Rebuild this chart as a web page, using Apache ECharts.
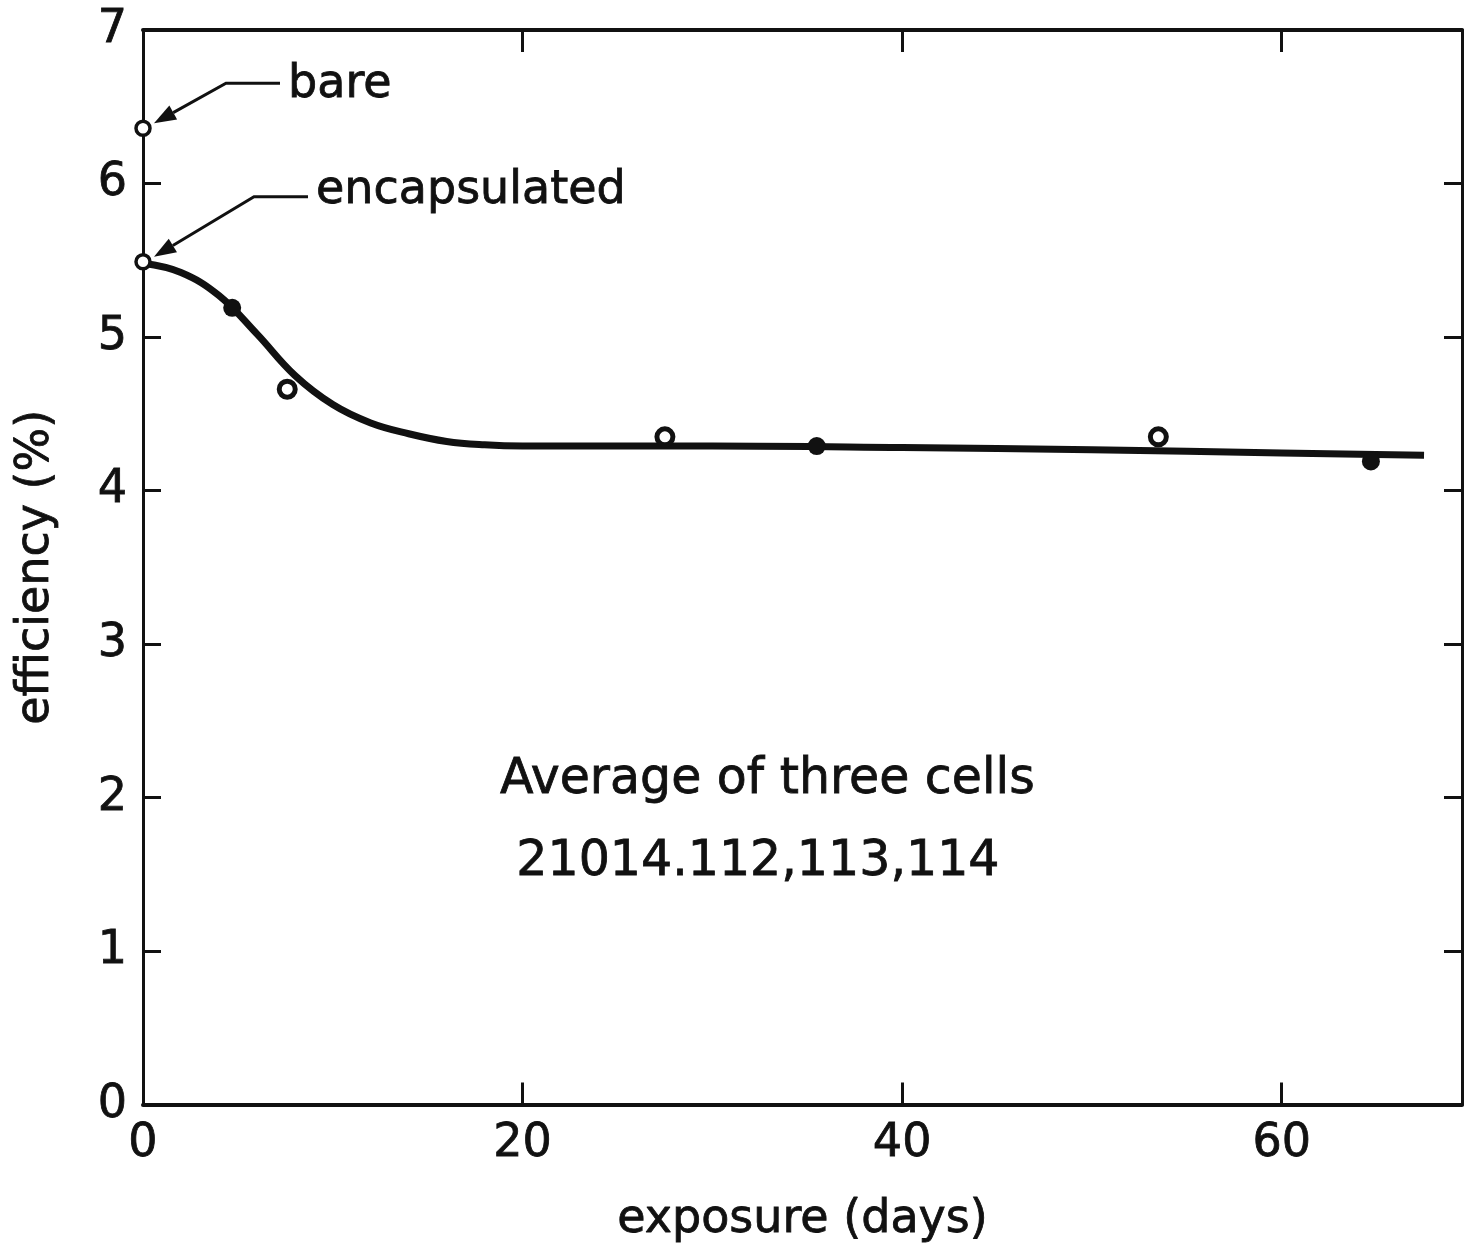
<!DOCTYPE html>
<html>
<head>
<meta charset="utf-8">
<script src="https://cdn.jsdelivr.net/npm/echarts@6/dist/echarts.min.js"></script>
<style>
  html, body { margin: 0; padding: 0; background: #fff; }
  #chart { width: 1465px; height: 1248px; }
</style>
</head>
<body>
<div id="chart"></div>
<script>
// values
var xTicks = [0, 20, 40, 60]
var yTicks = [0, 1, 2, 3, 4, 5, 6, 7]

// smooth fitted curve (days, %)
var curveX = [0, 2, 4, 6, 8, 10, 12, 14, 16, 18, 20, 30, 40, 50, 60, 67.5]
var curveY = [5.48, 5.42, 5.27, 5.02, 4.75, 4.56, 4.44, 4.37, 4.32, 4.298, 4.29, 4.29, 4.28, 4.265, 4.245, 4.23]

// measured points
var filledX = [4.7, 35.5, 64.7]
var filledY = [5.19, 4.29, 4.19]
var openX = [7.6, 27.5, 53.5]
var openY = [4.66, 4.35, 4.35]

// starting values at day 0
var startNames = ['bare', 'encapsulated']
var startY = [6.36, 5.49]

var noteLines = ['Average of three cells', '21014.112,113,114']

var FONT = 'DejaVu Sans'
var INK = '#111'

var pairs = (xs, ys) => xs.map((x, i) => [x, ys[i]])

var textBase = {
  fontFamily: FONT, fontSize: 46, color: INK,
  textBorderColor: INK, textBorderWidth: 0.8
}

var myChart = echarts.init(document.getElementById('chart'))

var option = {
  animation: false,
  backgroundColor: '#fff',
  grid: { left: 143, right: 2, top: 30, bottom: 140 },
  xAxis: [
    {
      type: 'value',
      min: 0,
      max: 69.5,
      interval: 20,
      name: 'exposure (days)',
      nameLocation: 'middle',
      nameGap: 92,
      nameTextStyle: textBase,
      axisLine: { onZero: false, lineStyle: { color: INK, width: 4 } },
      axisTick: { inside: true, length: 22, lineStyle: { color: INK, width: 3 } },
      axisLabel: Object.assign({
        margin: 16,
        formatter: v => xTicks.indexOf(v) >= 0 ? String(v) : ''
      }, textBase),
      splitLine: { show: false }
    },
    {
      type: 'value',
      position: 'top',
      min: 0,
      max: 69.5,
      interval: 20,
      axisLine: { onZero: false, lineStyle: { color: INK, width: 4 } },
      axisTick: { inside: true, length: 22, lineStyle: { color: INK, width: 3 } },
      axisLabel: { show: false },
      splitLine: { show: false }
    }
  ],
  yAxis: [
    {
      type: 'value',
      min: 0,
      max: 7,
      interval: 1,
      name: 'efficiency (%)',
      nameLocation: 'middle',
      nameGap: 84,
      nameTextStyle: textBase,
      axisLine: { show: true, onZero: false, lineStyle: { color: INK, width: 3 } },
      axisTick: { show: true, inside: true, length: 18, lineStyle: { color: INK, width: 3 } },
      axisLabel: Object.assign({
        margin: 16,
        formatter: v => yTicks.indexOf(v) >= 0 ? String(v) : ''
      }, textBase),
      splitLine: { show: false }
    },
    {
      type: 'value',
      position: 'right',
      min: 0,
      max: 7,
      interval: 1,
      axisLine: { show: true, onZero: false, lineStyle: { color: INK, width: 3 } },
      axisTick: { show: true, inside: true, length: 18, lineStyle: { color: INK, width: 3 } },
      axisLabel: { show: false },
      splitLine: { show: false }
    }
  ],
  series: [
    {
      name: 'fit',
      type: 'line',
      smooth: 0.4,
      showSymbol: false,
      symbol: 'none',
      lineStyle: { color: INK, width: 7 },
      data: pairs(curveX, curveY),
      z: 2
    },
    {
      name: 'filled',
      type: 'scatter',
      symbol: 'circle',
      symbolSize: 18,
      itemStyle: { color: INK, opacity: 1 },
      data: pairs(filledX, filledY),
      z: 3
    },
    {
      name: 'open',
      type: 'scatter',
      symbol: 'circle',
      symbolSize: 16,
      itemStyle: { color: '#fff', borderColor: INK, borderWidth: 5, opacity: 1 },
      data: pairs(openX, openY),
      z: 3
    },
    {
      name: 'start',
      type: 'scatter',
      symbol: 'circle',
      symbolSize: 14,
      itemStyle: { color: '#fff', borderColor: INK, borderWidth: 3.5, opacity: 1 },
      data: startY.map(y => [0, y]),
      z: 4
    }
  ]
}

myChart.setOption(option)

// arrow annotations and the note, placed from data coords
function arrow(p, dx, dy, label, textDy) {
  var elbow = [p[0] + dx, p[1] + dy]
  var tip = [p[0] + 11, p[1] - 5]
  var ang = Math.atan2(tip[1] - elbow[1], tip[0] - elbow[0])
  var len = 22, half = 8
  var bx = tip[0] - len * Math.cos(ang), by = tip[1] - len * Math.sin(ang)
  var nx = -Math.sin(ang) * half, ny = Math.cos(ang) * half
  return [
    {
      type: 'polyline',
      shape: { points: [[elbow[0] + 54, elbow[1]], elbow, [bx, by]] },
      style: { stroke: INK, lineWidth: 3, fill: null }
    },
    {
      type: 'polygon',
      shape: { points: [tip, [bx + nx, by + ny], [bx - nx, by - ny]] },
      style: { fill: INK }
    },
    {
      type: 'text',
      x: elbow[0] + 62,
      y: elbow[1] + textDy,
      style: {
        text: label, font: '46px "' + FONT + '"', fill: INK,
        stroke: INK, lineWidth: 0.8, verticalAlign: 'middle'
      }
    }
  ]
}

var bareP = myChart.convertToPixel({ gridIndex: 0 }, [0, startY[0]])
var encP = myChart.convertToPixel({ gridIndex: 0 }, [0, startY[1]])
var noteP1 = myChart.convertToPixel({ gridIndex: 0 }, [32.9, 2.11])
var noteP2 = myChart.convertToPixel({ gridIndex: 0 }, [32.4, 1.58])

var noteStyle = { font: '49px "' + FONT + '"', fill: INK, stroke: INK, lineWidth: 0.8, align: 'center', verticalAlign: 'middle' }

var graphics = []
  .concat(arrow(bareP, 83, -45, startNames[0], 2))
  .concat(arrow(encP, 111, -65, startNames[1], -6))
  .concat([
    { type: 'text', x: noteP1[0], y: noteP1[1], style: Object.assign({ text: noteLines[0] }, noteStyle) },
    { type: 'text', x: noteP2[0], y: noteP2[1], style: Object.assign({ text: noteLines[1] }, noteStyle) }
  ])

myChart.setOption({ graphic: graphics })
</script>
</body>
</html>
